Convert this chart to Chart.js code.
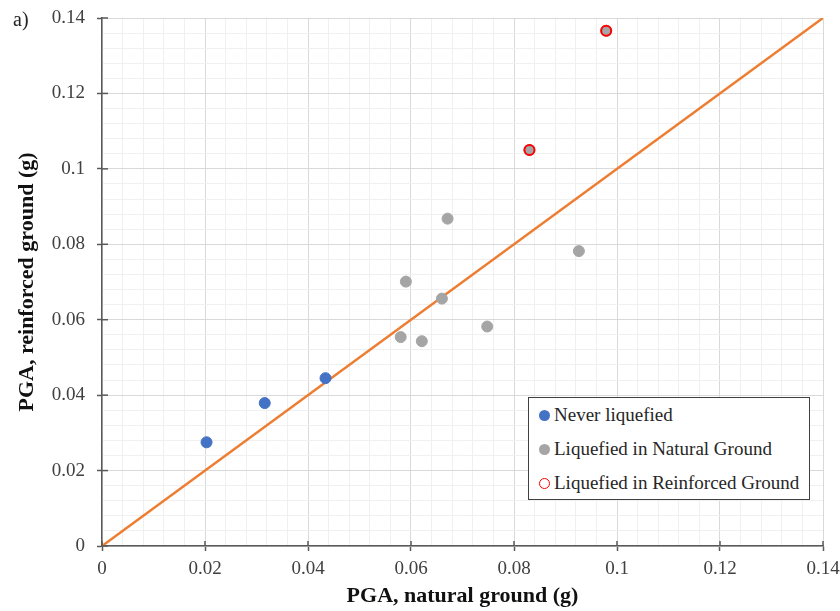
<!DOCTYPE html>
<html>
<head>
<meta charset="utf-8">
<script src="https://cdn.jsdelivr.net/npm/chart.js@4/dist/chart.umd.min.js"></script>
<style>
  body { margin: 0; background: #fff; }
  #wrap { position: relative; width: 840px; height: 611px; }
  #panel {
    position: absolute; left: 13px; top: 10px;
    font: 20px/19px "Liberation Serif", "Times New Roman", serif; color: #222;
  }
  #legend {
    position: absolute; left: 528px; top: 397px; width: 282px; height: 103px;
    box-sizing: border-box; border: 1px solid #404040; background: #fff;
    font: 19px "Liberation Serif", "Times New Roman", serif; color: #262626;
  }
  #legend .row { display: flex; align-items: center; height: 34px; line-height: 34px; padding-left: 10px; }
  #legend .mark { width: 11px; height: 11px; border-radius: 50%; box-sizing: border-box; margin-right: 4px; }
</style>
</head>
<body>
<div id="wrap">
  <canvas id="pga"></canvas>
  <div id="panel">a)</div>
  <div id="legend"></div>
</div>
<script>
// PGA pairs (g): natural ground vs reinforced ground

var neverX = [0.0203, 0.0316, 0.0434];
var neverY = [0.0275, 0.0379, 0.0445];

var naturalX = [0.0580, 0.0590, 0.0621, 0.0660, 0.0671, 0.0748, 0.0926, 0.0830, 0.0979];
var naturalY = [0.0554, 0.0701, 0.0543, 0.0656, 0.0868, 0.0582, 0.0782, 0.1050, 0.1366];

var reinforcedX = [0.0830, 0.0979];
var reinforcedY = [0.1050, 0.1366];

var lineX = [0, 0.14];
var lineY = [0, 0.14];

var axisMin = 0;
var axisMax = 0.14;
var majorStep = 0.02;
var minorStep = 0.004;

function toPoints(xs, ys) {
  return xs.map(function (x, i) { return { x: x, y: ys[i] }; });
}

function isMajor(v) {
  var r = v / majorStep;
  return Math.abs(r - Math.round(r)) < 1e-6;
}

var serif = "'Liberation Serif', 'Times New Roman', serif";

function axis(titleText, titlePad, fitFn) {
  return {
    type: 'linear',
    min: axisMin,
    max: axisMax,
    afterFit: fitFn,
    border: { color: '#595959', width: 1.5 },
    grid: {
      color: function (c) { return isMajor(c.tick.value) ? '#d9d9d9' : '#f0f0f0'; },
      lineWidth: 1,
      tickLength: 5,
      tickWidth: 1.5,
      tickColor: function (c) { return isMajor(c.tick.value) ? '#595959' : 'rgba(0,0,0,0)'; }
    },
    ticks: {
      stepSize: minorStep,
      autoSkip: false,
      maxRotation: 0,
      color: '#404040',
      font: { family: serif, size: 19 },
      callback: function (v) {
        return isMajor(v) ? String(Math.round(v * 100) / 100) : '';
      }
    },
    title: {
      display: true,
      text: titleText,
      color: '#111',
      font: { family: serif, size: 22, weight: 'bold', lineHeight: 1.2 },
      padding: titlePad
    }
  };
}

// fixed axis boxes so the plot area sits at 102..823 x 18..546
var xAxis = axis('PGA, natural ground (g)', { top: 0, bottom: 1 }, function (s) {
  s.height = 65;
  s.paddingLeft = 0;
  s.paddingRight = 0;
});
xAxis.ticks.padding = 7;
var yAxis = axis('PGA, reinforced ground (g)', { top: 14, bottom: 0 }, function (s) {
  s.width = 102;
  s.paddingTop = 0;
  s.paddingBottom = 0;
});
yAxis.ticks.padding = 12;

// short tick marks on the inside of both axes
var innerTicks = {
  id: 'innerTicks',
  afterDatasetsDraw: function (chart) {
    var ctx = chart.ctx, a = chart.chartArea;
    ctx.save();
    ctx.strokeStyle = '#595959';
    ctx.lineWidth = 1.5;
    chart.scales.x.ticks.forEach(function (t) {
      if (!isMajor(t.value)) return;
      var px = chart.scales.x.getPixelForValue(t.value);
      ctx.beginPath(); ctx.moveTo(px, a.bottom); ctx.lineTo(px, a.bottom - 5); ctx.stroke();
    });
    chart.scales.y.ticks.forEach(function (t) {
      if (!isMajor(t.value)) return;
      var py = chart.scales.y.getPixelForValue(t.value);
      ctx.beginPath(); ctx.moveTo(a.left, py); ctx.lineTo(a.left + 6, py); ctx.stroke();
    });
    ctx.restore();
  }
};

const chart = new Chart(document.getElementById('pga'), {
  type: 'scatter',
  data: {
    datasets: [{
      label: 'Never liquefied',
      data: toPoints(neverX, neverY),
      order: 1,
      pointRadius: 5.5,
      borderWidth: 1,
      backgroundColor: '#4472C4',
      borderColor: '#4472C4'
    }, {
      label: 'Liquefied in Natural Ground',
      data: toPoints(naturalX, naturalY),
      order: 2,
      pointRadius: 5.5,
      borderWidth: 1,
      backgroundColor: '#A5A5A5',
      borderColor: '#A5A5A5'
    }, {
      label: 'Liquefied in Reinforced Ground',
      data: toPoints(reinforcedX, reinforcedY),
      order: 0,
      pointRadius: 5,
      borderWidth: 2,
      backgroundColor: 'rgba(0,0,0,0)',
      borderColor: '#FF0000'
    }, {
      label: '1:1',
      data: toPoints(lineX, lineY),
      order: 3,
      showLine: true,
      pointRadius: 0,
      borderWidth: 2.5,
      borderColor: '#ED7D31'
    }]
  },
  options: {
    responsive: true,
    maintainAspectRatio: false,
    animation: false,
    layout: { padding: { left: 0, right: 17, top: 18, bottom: 0 } },
    scales: { x: xAxis, y: yAxis },
    plugins: {
      legend: { display: false },
      tooltip: { enabled: false }
    }
  },
  plugins: [innerTicks]
});

// Legend box
var legendEl = document.getElementById('legend');
[0, 1, 2].forEach(function (i) {
  var ds = chart.data.datasets[i];
  var row = document.createElement('div');
  row.className = 'row';
  var mark = document.createElement('span');
  mark.className = 'mark';
  if (i === 2) {
    mark.style.border = '1.5px solid ' + ds.borderColor;
    mark.style.background = '#fff';
  } else {
    mark.style.background = ds.backgroundColor;
  }
  row.appendChild(mark);
  row.appendChild(document.createTextNode(ds.label));
  legendEl.appendChild(row);
});
</script>
</body>
</html>
